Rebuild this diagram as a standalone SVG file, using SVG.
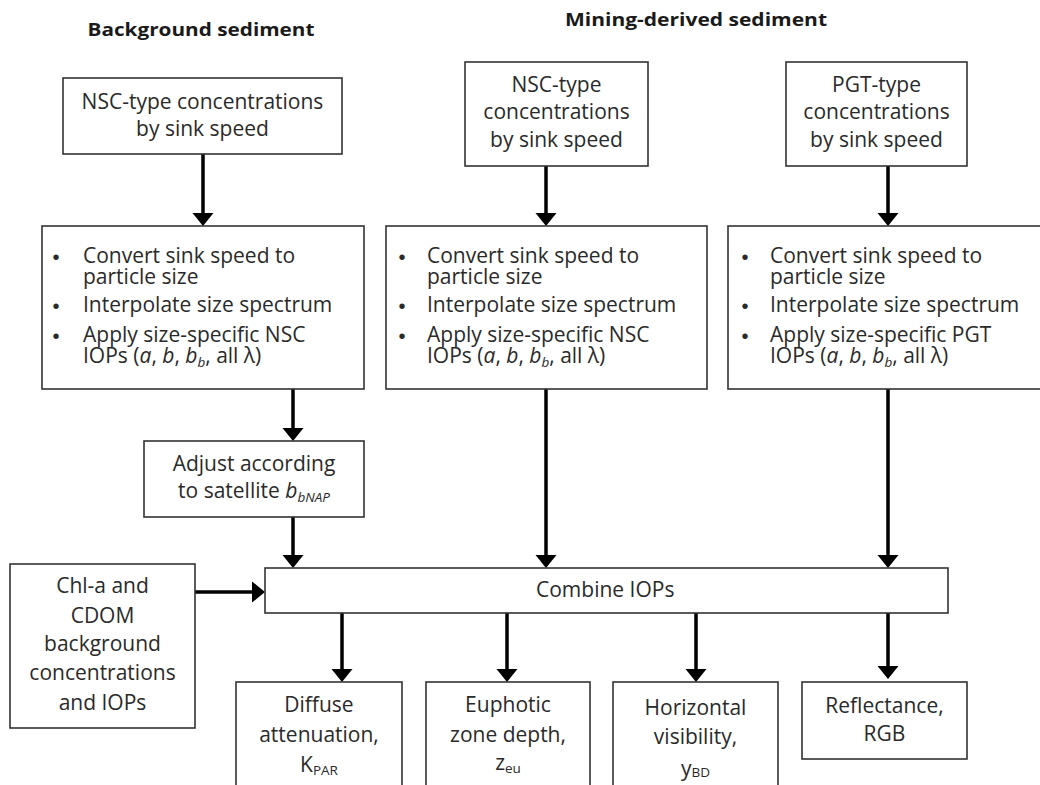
<svg xmlns="http://www.w3.org/2000/svg" width="1040" height="785" viewBox="0 0 1040 785">
<style>
.bx{fill:#fff;stroke:#333;stroke-width:1.6}
.t{font-family:"Open Sans","Liberation Sans",sans-serif;font-size:21px;fill:#2a2a2a}
.c{text-anchor:middle}
.h{font-family:"Open Sans","Liberation Sans",sans-serif;font-size:17px;font-weight:bold;fill:#1a1a1a;text-anchor:middle}
.bu{font-family:"Liberation Sans",sans-serif;font-size:20px;fill:#2a2a2a;text-anchor:middle}
.sub{font-size:13.5px}
.i{font-style:italic}
.ar{stroke:#000;stroke-width:3.5;fill:none;marker-end:url(#ah)}
</style>
<defs>
<marker id="ah" markerUnits="userSpaceOnUse" markerWidth="16" markerHeight="24" viewBox="0 -11 16 22" refX="3" refY="0" orient="auto">
<path d="M0,-10.5 L13,0 L0,10.5 z" fill="#000"/>
</marker>
</defs>
<rect width="1040" height="785" fill="#fff"/>

<g id="headers">
<text class="h" x="201" y="36" textLength="227" lengthAdjust="spacingAndGlyphs">Background sediment</text>
<text class="h" x="696" y="26" textLength="262" lengthAdjust="spacingAndGlyphs">Mining-derived sediment</text>
</g>

<g id="connectors">
<line class="ar" x1="203" y1="154" x2="203" y2="216"/>
<line class="ar" x1="546" y1="166" x2="546" y2="216"/>
<line class="ar" x1="888" y1="166" x2="888" y2="216"/>
<line class="ar" x1="293" y1="389" x2="293" y2="431"/>
<line class="ar" x1="293" y1="517" x2="293" y2="558"/>
<line class="ar" x1="546" y1="389" x2="546" y2="558"/>
<line class="ar" x1="888" y1="389" x2="888" y2="558"/>
<line class="ar" x1="195" y1="592" x2="255" y2="592"/>
<line class="ar" x1="342" y1="613" x2="342" y2="672"/>
<line class="ar" x1="507" y1="613" x2="507" y2="672"/>
<line class="ar" x1="696" y1="613" x2="696" y2="672"/>
<line class="ar" x1="888" y1="613" x2="888" y2="669"/>
</g>

<g id="bg-nsc">
<rect class="bx" x="63" y="78" width="279" height="76"/>
<text class="t c" x="202.5" y="109">NSC-type concentrations</text>
<text class="t c" x="202.5" y="136">by sink speed</text>
</g>

<g id="mine-nsc">
<rect class="bx" x="465" y="62" width="183" height="104"/>
<text class="t c" x="556.5" y="92">NSC-type</text>
<text class="t c" x="556.5" y="119">concentrations</text>
<text class="t c" x="556.5" y="147">by sink speed</text>
</g>

<g id="mine-pgt">
<rect class="bx" x="786" y="62" width="181" height="104"/>
<text class="t c" x="876.5" y="92">PGT-type</text>
<text class="t c" x="876.5" y="119">concentrations</text>
<text class="t c" x="876.5" y="147">by sink speed</text>
</g>

<g id="proc-bg">
<rect class="bx" x="42" y="226" width="322" height="163"/>
<text class="bu" x="56" y="264">•</text>
<text class="t" x="83" y="263">Convert sink speed to</text>
<text class="t" x="83" y="284">particle size</text>
<text class="bu" x="56" y="313">•</text>
<text class="t" x="83" y="312">Interpolate size spectrum</text>
<text class="bu" x="56" y="343">•</text>
<text class="t" x="83" y="342">Apply size-specific NSC</text>
<text class="t" x="83" y="363">IOPs (<tspan class="i">a</tspan>, <tspan class="i">b</tspan>, <tspan class="i">b</tspan><tspan class="i sub" dy="4">b</tspan><tspan dy="-4">, all λ)</tspan></text>
</g>

<g id="proc-nsc">
<rect class="bx" x="386" y="226" width="321" height="163"/>
<text class="bu" x="402" y="264">•</text>
<text class="t" x="427" y="263">Convert sink speed to</text>
<text class="t" x="427" y="284">particle size</text>
<text class="bu" x="402" y="313">•</text>
<text class="t" x="427" y="312">Interpolate size spectrum</text>
<text class="bu" x="402" y="343">•</text>
<text class="t" x="427" y="342">Apply size-specific NSC</text>
<text class="t" x="427" y="363">IOPs (<tspan class="i">a</tspan>, <tspan class="i">b</tspan>, <tspan class="i">b</tspan><tspan class="i sub" dy="4">b</tspan><tspan dy="-4">, all λ)</tspan></text>
</g>

<g id="proc-pgt">
<rect class="bx" x="728" y="226" width="321" height="163"/>
<text class="bu" x="745" y="264">•</text>
<text class="t" x="770" y="263">Convert sink speed to</text>
<text class="t" x="770" y="284">particle size</text>
<text class="bu" x="745" y="313">•</text>
<text class="t" x="770" y="312">Interpolate size spectrum</text>
<text class="bu" x="745" y="343">•</text>
<text class="t" x="770" y="342">Apply size-specific PGT</text>
<text class="t" x="770" y="363">IOPs (<tspan class="i">a</tspan>, <tspan class="i">b</tspan>, <tspan class="i">b</tspan><tspan class="i sub" dy="4">b</tspan><tspan dy="-4">, all λ)</tspan></text>
</g>

<g id="adjust">
<rect class="bx" x="144" y="441" width="220" height="76"/>
<text class="t c" x="254" y="471">Adjust according</text>
<text class="t c" x="254" y="498">to satellite <tspan class="i">b</tspan><tspan class="i sub" dy="4">bNAP</tspan></text>
</g>

<g id="chl">
<rect class="bx" x="10" y="564" width="185" height="164"/>
<text class="t c" x="102.5" y="593">Chl-a and</text>
<text class="t c" x="102.5" y="623">CDOM</text>
<text class="t c" x="102.5" y="651">background</text>
<text class="t c" x="102.5" y="680">concentrations</text>
<text class="t c" x="102.5" y="710">and IOPs</text>
</g>

<g id="combine">
<rect class="bx" x="265" y="568" width="683" height="45"/>
<text class="t" x="536" y="597">Combine IOPs</text>
</g>

<g id="diffuse">
<rect class="bx" x="236" y="682" width="166" height="110"/>
<text class="t c" x="319" y="712">Diffuse</text>
<text class="t c" x="319" y="742">attenuation,</text>
<text class="t c" x="319" y="772">K<tspan class="sub" dy="3">PAR</tspan></text>
</g>

<g id="euphotic">
<rect class="bx" x="426" y="682" width="164" height="110"/>
<text class="t c" x="508" y="712">Euphotic</text>
<text class="t c" x="508" y="742">zone depth,</text>
<text class="t c" x="508" y="770">z<tspan class="sub" dy="3">eu</tspan></text>
</g>

<g id="horizontal">
<rect class="bx" x="613" y="682" width="165" height="110"/>
<text class="t c" x="695.5" y="715">Horizontal</text>
<text class="t c" x="695.5" y="744">visibility,</text>
<text class="t c" x="695.5" y="776">y<tspan class="sub" dy="1">BD</tspan></text>
</g>

<g id="reflectance">
<rect class="bx" x="802" y="682" width="165" height="77"/>
<text class="t c" x="884.5" y="713">Reflectance,</text>
<text class="t c" x="884.5" y="741">RGB</text>
</g>
</svg>
